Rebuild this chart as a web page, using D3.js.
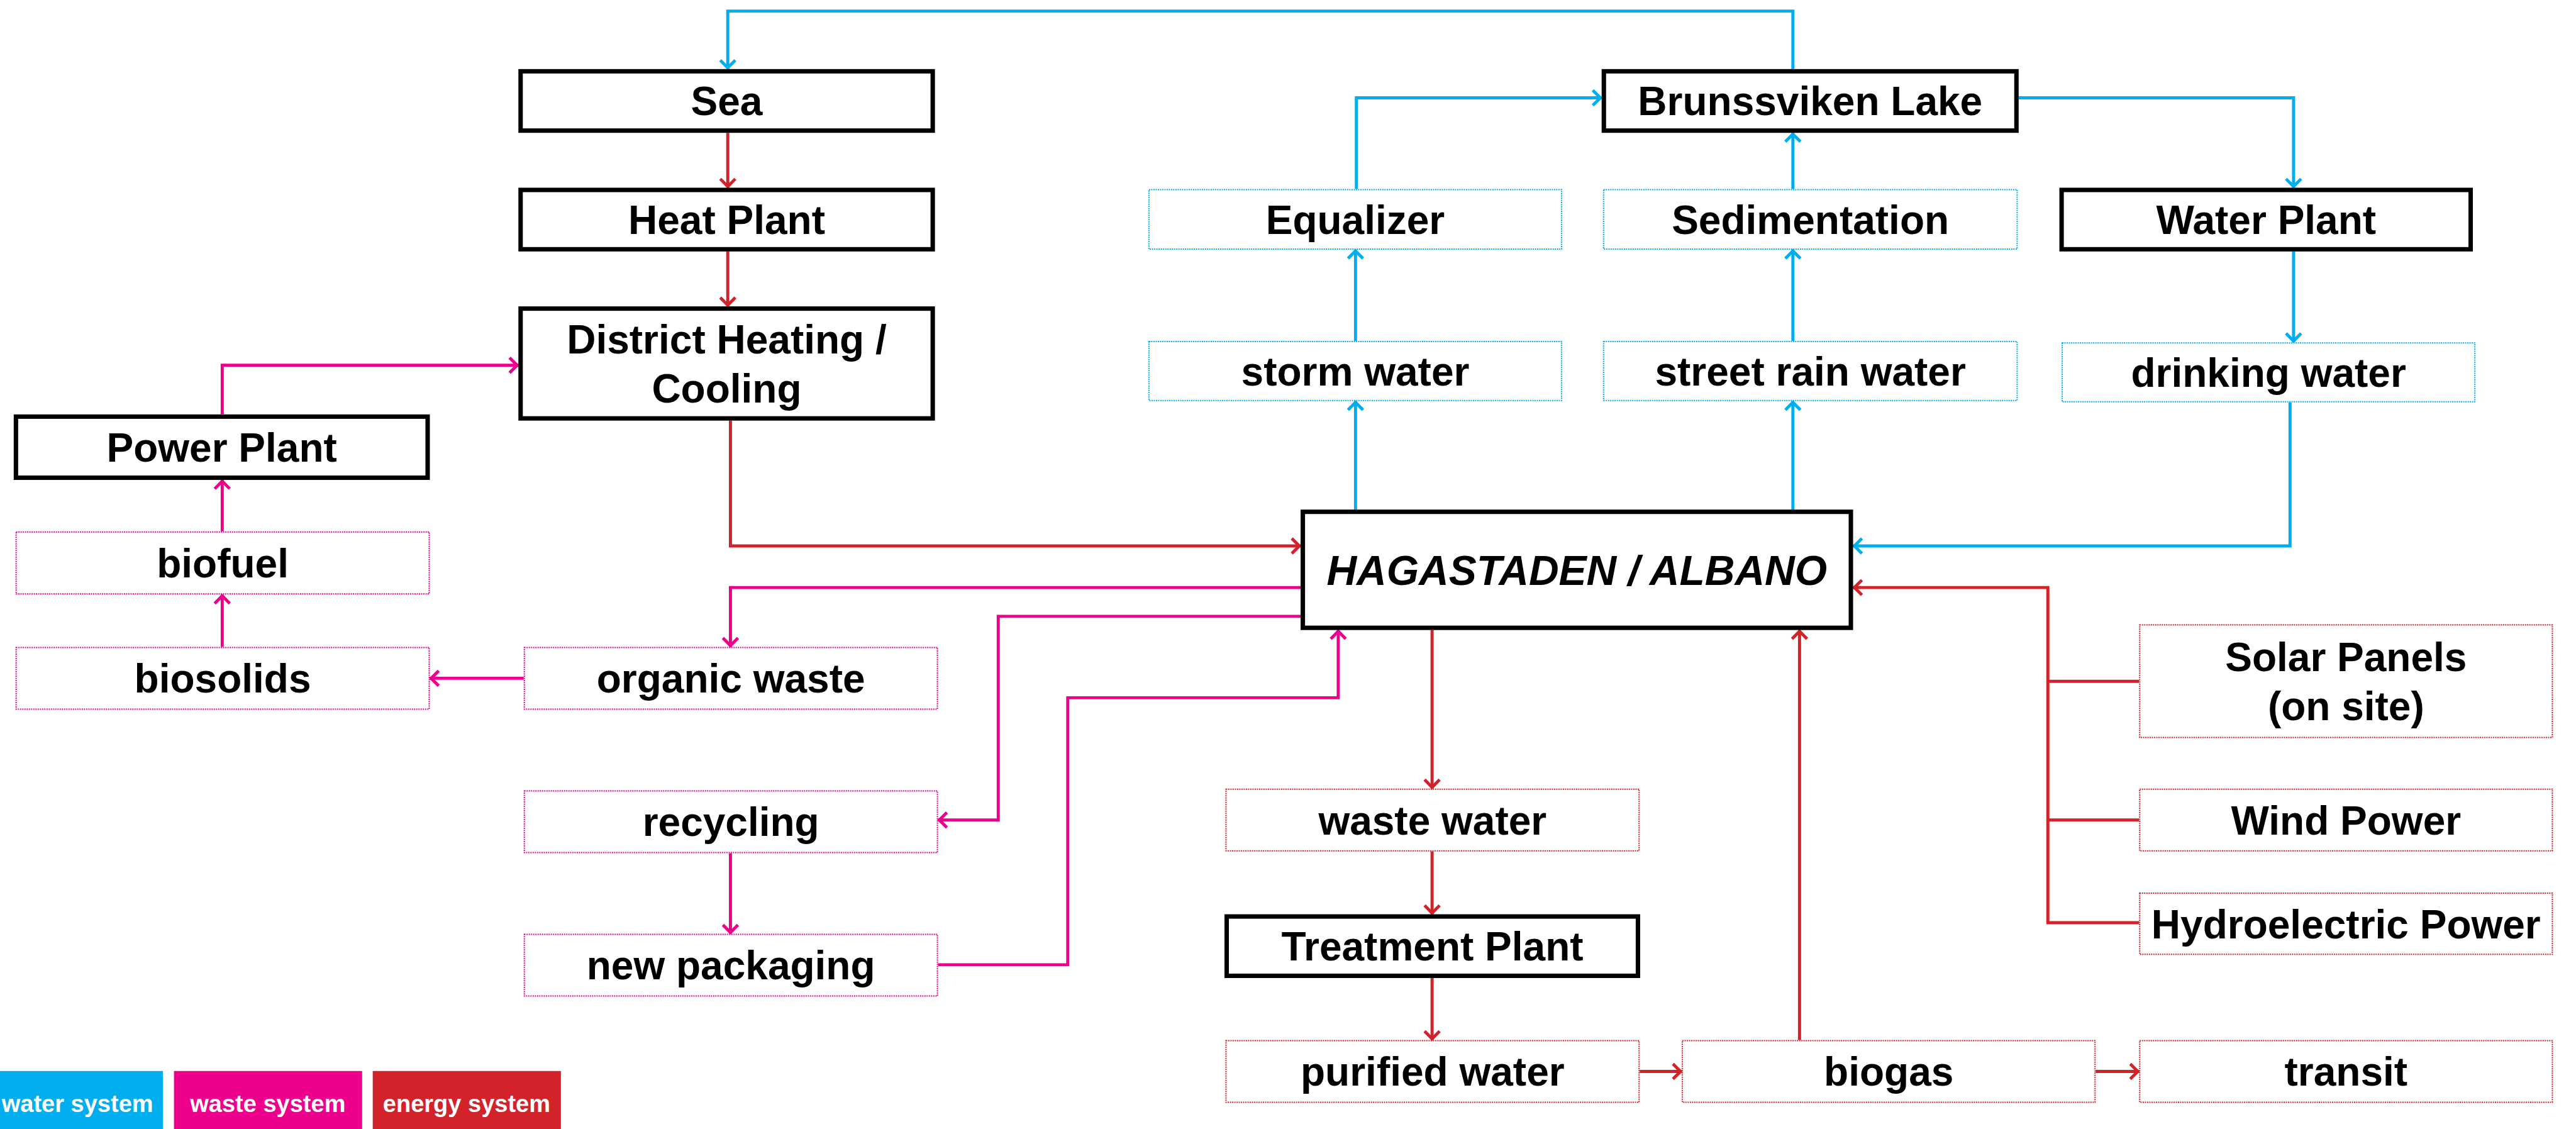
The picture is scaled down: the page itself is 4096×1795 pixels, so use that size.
<!DOCTYPE html>
<html>
<head>
<meta charset="utf-8">
<script src="https://cdn.jsdelivr.net/npm/d3@7"></script>
<style>
  html, body { margin: 0; padding: 0; background: #fff; overflow: hidden; }
  text { font-family: "Liberation Sans", Arial, sans-serif; font-weight: bold; }
</style>
</head>
<body>
<svg id="flow-chart-svg" width="4096" height="1795"></svg>
<script>
// ---------- data ----------
const systems      = ["water system", "waste system", "energy system"];
const systemKeys   = ["water", "waste", "energy"];

const nodeIds = ["sea", "heat", "district", "power", "biofuel", "biosolids", "organic",
    "recycling", "packaging", "lake", "equalizer", "sedimentation", "waterplant",
    "storm", "street", "drinking", "hag", "solar", "wind", "hydro",
    "wastewater", "treatment", "purified", "biogas", "transit"];

const nodeLabels = [["Sea"], ["Heat Plant"], ["District Heating /", "Cooling"], ["Power Plant"],
    ["biofuel"], ["biosolids"], ["organic waste"], ["recycling"], ["new packaging"],
    ["Brunssviken Lake"], ["Equalizer"], ["Sedimentation"], ["Water Plant"],
    ["storm water"], ["street rain water"], ["drinking water"], ["HAGASTADEN / ALBANO"],
    ["Solar Panels", "(on site)"], ["Wind Power"], ["Hydroelectric Power"],
    ["waste water"], ["Treatment Plant"], ["purified water"], ["biogas"], ["transit"]];

// "plant" = solid black box, otherwise the system the item belongs to
const nodeKinds = ["plant", "plant", "plant", "plant", "waste", "waste", "waste",
    "waste", "waste", "plant", "water", "water", "plant",
    "water", "water", "water", "hub", "energy", "energy", "energy",
    "energy", "plant", "energy", "energy", "energy"];

// flows: from, to, system
const linkFrom   = ["lake", "storm", "equalizer", "street", "sedimentation", "lake", "waterplant", "drinking", "hag", "hag",
                    "sea", "heat", "district", "hag", "wastewater", "treatment", "purified", "biogas", "biogas", "solar", "wind", "hydro",
                    "power", "biofuel", "biosolids", "organic", "hag", "hag", "recycling", "packaging"];
const linkTo     = ["sea", "equalizer", "lake", "sedimentation", "lake", "waterplant", "drinking", "hag", "storm", "street",
                    "heat", "district", "hag", "wastewater", "treatment", "purified", "biogas", "hag", "transit", "hag", "hag", "hag",
                    "district", "power", "biofuel", "biosolids", "organic", "recycling", "packaging", "hag"];
const linkSystem = ["water", "water", "water", "water", "water", "water", "water", "water", "water", "water",
                    "energy", "energy", "energy", "energy", "energy", "energy", "energy", "energy", "energy", "energy", "energy", "energy",
                    "waste", "waste", "waste", "waste", "waste", "waste", "waste", "waste"];

// ---------- layout (reference pixel units, 5819 x 2550) ----------
const REFW = 5819, REFH = 2550;
const nodeBoxes = {
    sea:           [1171, 156, 2112, 300],
    heat:          [1171, 424, 2112, 568],
    district:      [1171, 692, 2112, 950],
    power:         [31, 936, 971, 1084],
    biofuel:       [35, 1200, 971, 1343],
    biosolids:     [35, 1461, 971, 1603],
    organic:       [1183, 1461, 2119, 1603],
    recycling:     [1183, 1785, 2119, 1927],
    packaging:     [1183, 2109, 2119, 2251],
    lake:          [3618, 156, 4560, 300],
    equalizer:     [2594, 427, 3529, 564],
    sedimentation: [3621, 427, 4558, 564],
    waterplant:    [4652, 424, 5586, 568],
    storm:         [2594, 770, 3529, 906],
    street:        [3621, 770, 4558, 906],
    drinking:      [4657, 773, 5592, 909],
    hag:           [2938, 1151, 4186, 1423],
    solar:         [4832, 1410, 5767, 1667],
    wind:          [4832, 1781, 5767, 1923],
    hydro:         [4832, 2016, 5767, 2157],
    wastewater:    [2768, 1781, 3704, 1923],
    treatment:     [2766, 2065, 3705, 2209],
    purified:      [2768, 2349, 3704, 2491],
    biogas:        [3799, 2349, 4734, 2491],
    transit:       [4832, 2349, 5767, 2491]
};

// routes in the same order as the links above; last point gets the arrow
const linkRoutes = [
    [[4050, 156], [4050, 25], [1644, 25], [1644, 156]],
    [[3062, 770], [3062, 564]],
    [[3064, 427], [3064, 221], [3618, 221]],
    [[4050, 770], [4050, 564]],
    [[4050, 427], [4050, 300]],
    [[4560, 221], [5181, 221], [5181, 424]],
    [[5181, 568], [5181, 773]],
    [[5173, 909], [5173, 1233], [4186, 1233]],
    [[3062, 1151], [3062, 906]],
    [[4050, 1151], [4050, 906]],
    [[1644, 300], [1644, 424]],
    [[1644, 568], [1644, 692]],
    [[1650, 950], [1650, 1233], [2938, 1233]],
    [[3235, 1423], [3235, 1781]],
    [[3235, 1923], [3235, 2065]],
    [[3235, 2209], [3235, 2349]],
    [[3704, 2420], [3799, 2420]],
    [[4065, 2349], [4065, 1423]],
    [[4734, 2420], [4832, 2420]],
    [[4832, 1539], [4626, 1539]],
    [[4832, 1852], [4626, 1852]],
    [[4832, 2084], [4626, 2084], [4626, 1327], [4186, 1327]],
    [[502, 936], [502, 825], [1171, 825]],
    [[502, 1200], [502, 1084]],
    [[502, 1461], [502, 1343]],
    [[1183, 1532], [971, 1532]],
    [[2938, 1327], [1650, 1327], [1650, 1461]],
    [[2938, 1392], [2255, 1392], [2255, 1852], [2119, 1852]],
    [[1650, 1927], [1650, 2109]],
    [[2119, 2179], [2412, 2179], [2412, 1576], [3023, 1576], [3023, 1423]]
];
const linkArrow = linkRoutes.map(function(r, i){ return !(linkFrom[i] === "solar" || linkFrom[i] === "wind"); });

const legendBoxes = [[-57, 2419, 368, 2550], [393, 2419, 818, 2550], [842, 2419, 1267, 2550]];
// the first legend box runs off the left edge, so its label sits a little right of centre
const legendTextX = [175, 605, 1054];

const COLOURS = { water: "#00aeef", waste: "#ec008c", energy: "#d2232a", plant: "#000", hub: "#000" };

// ---------- drawing ----------
document.addEventListener('DOMContentLoaded', function(){
    drawChart();
}, false);

function drawChart(){
    var vis = d3.select("#flow-chart-svg");
    var W = +vis.attr("width"), H = +vis.attr("height");
    var x = d3.scaleLinear().domain([0, REFW]).range([0, W]);
    var y = d3.scaleLinear().domain([0, REFH]).range([0, H]);
    var k = W / REFW;

    var LINEW = 7 * k, BOXW = 10 * k, FONT = 64, HUBFONT = 66, LINEH = 110 * k;
    var ARROWBACK = 20 * k, ARROWHALF = 17 * k;

    vis.append("rect").attr("width", W).attr("height", H).attr("fill", "#fff");

    // links
    var line = d3.line().x(function(p){ return x(p[0]); }).y(function(p){ return y(p[1]); });
    var linkG = vis.append("g").attr("class", "links");
    linkRoutes.forEach(function(route, i){
        var col = COLOURS[linkSystem[i]];
        linkG.append("path")
            .attr("d", line(route))
            .attr("fill", "none")
            .attr("stroke", col)
            .attr("stroke-width", LINEW)
            .attr("stroke-linejoin", "miter");
        if (linkArrow[i]) {
            var a = route[route.length - 2], b = route[route.length - 1];
            var tx = x(b[0]), ty = y(b[1]);
            var dx = x(b[0]) - x(a[0]), dy = y(b[1]) - y(a[1]);
            var len = Math.sqrt(dx*dx + dy*dy); dx /= len; dy /= len;
            var px = -dy, py = dx;
            var bx = tx - dx * ARROWBACK, by = ty - dy * ARROWBACK;
            linkG.append("path")
                .attr("d", "M" + (bx + px*ARROWHALF) + "," + (by + py*ARROWHALF) +
                           "L" + (tx - dx*LINEW*0.4) + "," + (ty - dy*LINEW*0.4) +
                           "L" + (bx - px*ARROWHALF) + "," + (by - py*ARROWHALF))
                .attr("fill", "none")
                .attr("stroke", col)
                .attr("stroke-width", LINEW)
                .attr("stroke-linejoin", "miter");
        }
    });

    // nodes
    var nodeG = vis.append("g").attr("class", "nodes");
    nodeIds.forEach(function(id, i){
        var b = nodeBoxes[id], kind = nodeKinds[i];
        var solid = (kind === "plant" || kind === "hub");
        var sw = solid ? BOXW : 2;
        var x0 = x(b[0]) + sw/2, y0 = y(b[1]) + sw/2, x1 = x(b[2]) - sw/2, y1 = y(b[3]) - sw/2;
        var rect = nodeG.append("rect")
            .attr("x", x0).attr("y", y0)
            .attr("width", x1 - x0).attr("height", y1 - y0)
            .attr("fill", "#fff")
            .attr("stroke", COLOURS[kind])
            .attr("stroke-width", sw);
        if (!solid) rect.attr("stroke-dasharray", "2,1.5");

        var fs = kind === "hub" ? HUBFONT : FONT;
        var cx = (x(b[0]) + x(b[2])) / 2, cy = (y(b[1]) + y(b[3])) / 2;
        var lines = nodeLabels[i];
        lines.forEach(function(t, j){
            var off = (j - (lines.length - 1) / 2) * LINEH;
            nodeG.append("text")
                .attr("x", cx)
                .attr("y", cy + off + fs * 0.358)
                .attr("text-anchor", "middle")
                .attr("font-size", fs)
                .attr("font-style", kind === "hub" ? "italic" : "normal")
                .attr("fill", "#000")
                .text(t);
        });
    });

    // legend
    var legG = vis.append("g").attr("class", "legend");
    systems.forEach(function(s, i){
        var b = legendBoxes[i];
        legG.append("rect")
            .attr("x", x(b[0])).attr("y", y(b[1]))
            .attr("width", x(b[2]) - x(b[0])).attr("height", y(b[3]) - y(b[1]))
            .attr("fill", COLOURS[systemKeys[i]]);
        legG.append("text")
            .attr("x", x(legendTextX[i]))
            .attr("y", y(2512))
            .attr("text-anchor", "middle")
            .attr("font-size", 38)
            .attr("fill", "#fff")
            .text(s);
    });
}
</script>
</body>
</html>
